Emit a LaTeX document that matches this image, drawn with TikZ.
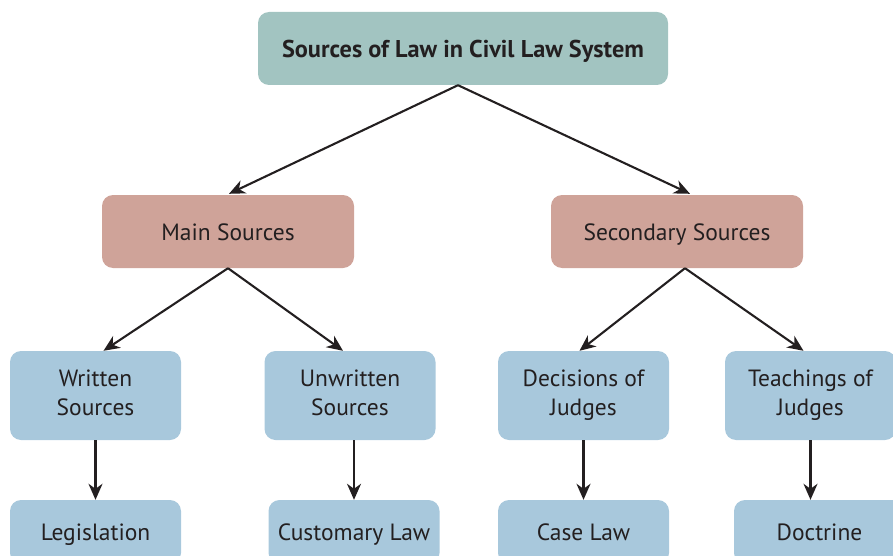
\documentclass[tikz,border=0pt]{standalone}
\usepackage{fontspec}
\setmainfont{PT Sans}
\usetikzlibrary{arrows.meta,positioning}
\definecolor{ink}{HTML}{231F20}
\definecolor{toptone}{HTML}{A2C4C1}
\definecolor{midtone}{HTML}{CFA399}
\definecolor{lowtone}{HTML}{A8C8DC}
\newcommand\boxstrut{\rule[-5.8pt]{0pt}{29pt}}
\newcommand\pairstrut{\rule{0pt}{21pt}}

\begin{document}
\begin{tikzpicture}[y=-1pt,x=1pt,
	box/.style={rounded corners=11pt, text=ink, align=center, inner sep=0pt,
		font=\fontsize{23.5}{29}\selectfont},
	onebox/.style={box, execute at begin node=\boxstrut, execute at end node=\boxstrut},
	midbox/.style={onebox, fill=midtone, minimum width=252pt, minimum height=73pt},
	lowbox/.style={box, fill=lowtone, minimum width=171pt, minimum height=89pt,
		execute at begin node=\pairstrut, execute at end node=\boxstrut},
	leafbox/.style={onebox, fill=lowtone, minimum width=171pt, minimum height=64pt},
	arr/.style={draw=ink, line width=2.1pt, -{Stealth[length=16pt,width=14pt,inset=5pt]}}]
	\useasboundingbox (0,0) rectangle (893,556);

	% top
	\node[onebox, fill=toptone, minimum width=410pt, minimum height=73pt,
		font=\bfseries\fontsize{24.3}{29}\selectfont] (law) at (463,48.5) {Sources of Law in Civil Law System};

	% second row
	\node[midbox] (main) at (228,231.5) {Main Sources};
	\node[midbox] (second) at (677,231.5) {Secondary Sources};

	% third row
	\node[lowbox] (written) at (95.5,395.5) {Written\\Sources};
	\node[lowbox] (unwritten) at (350,395.5) {Unwritten\\Sources};
	\node[lowbox] (decisions) at (583.5,395.5) {Decisions of\\Judges};
	\node[lowbox] (teachings) at (810.5,395.5) {Teachings of\\Judges};

	% bottom row
	\node[leafbox] (legis) at (95.5,532) {Legislation};
	\node[leafbox] (custom) at (354,532) {Customary Law};
	\node[leafbox] (caselaw) at (583.5,532) {Case Law};
	\node[leafbox] (doctrine) at (819.5,532) {Doctrine};

	\draw[arr] ([xshift=-5pt]law.south) -- ([xshift=1pt,yshift=1pt]main.north);
	\draw[arr] ([xshift=-5pt]law.south) -- ([xshift=13pt,yshift=1pt]second.north);

	\draw[arr] (main.south) -- ([xshift=8pt]written.north);
	\draw[arr] (main.south) -- ([xshift=-7pt]unwritten.north);
	\draw[arr] ([xshift=8pt]second.south) -- ([xshift=-4pt]decisions.north);
	\draw[arr] ([xshift=8pt]second.south) -- ([xshift=-7pt]teachings.north);

	\draw[arr] (written.south) -- (legis.north);
	\draw[arr] (unwritten.south -| custom.north) -- (custom.north);
	\draw[arr] (decisions.south) -- (caselaw.north);
	\draw[arr] (teachings.south) -- ([xshift=-9pt]doctrine.north);
\end{tikzpicture}
\end{document}
